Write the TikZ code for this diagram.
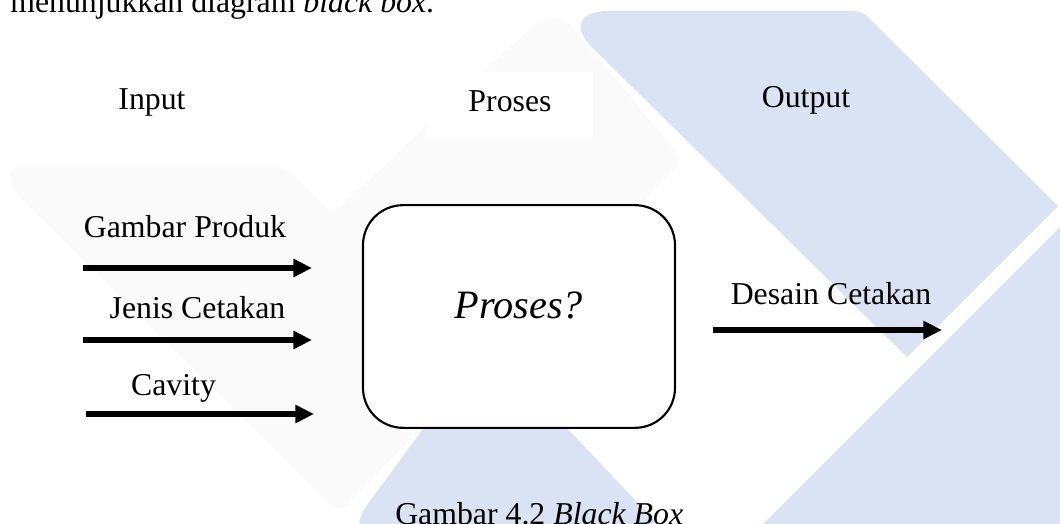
\documentclass[tikz,border=0pt]{standalone}
\usepackage{fontspec}
\setmainfont{Liberation Serif}
\usepackage{xcolor}
\usetikzlibrary{arrows.meta}
\definecolor{logoblue}{RGB}{218,227,243}
\definecolor{logogrey}{RGB}{250,250,250}

\begin{document}
\begin{tikzpicture}[x=0.75pt,y=-0.75pt,every node/.style={inner sep=0pt,font=\fontsize{23.85}{28}\selectfont},
  flow/.style={line width=4.6pt,-{Triangle[length=14pt,width=13pt]}}]

\pgfmathsetmacro{\XIN}{83}
\pgfmathsetmacro{\XINEND}{312}
\pgfmathsetmacro{\XOUT}{713}
\pgfmathsetmacro{\XOUTEND}{942}

\useasboundingbox (0,0) rectangle (1060,524);

% logo in the background
\fill[logogrey, rounded corners=8pt] (10,166) -- (284,166) -- (333,214) -- (541,18) -- (565,18) -- (683,160) -- (339,513) -- (10,187) -- cycle;
\fill[logoblue] (907,357) -- (1058,206) [rounded corners=6pt] -- (862,11) [rounded corners=40pt] -- (555,11) [sharp corners] -- cycle;
\fill[logoblue] (1060,227) -- (763,524) -- (1060,524) -- cycle;
\fill[logoblue] (658,524) -- (486,343) [rounded corners=8pt] -- (359,516) [sharp corners] -- (359,524) -- cycle;

% line of text above
\draw (10,13) node (lead) [anchor=base west] {menunjukkan diagram \textit{black box}.};

% column heads
\fill[white] (427,72) rectangle (593,138);
\draw (152,110) node (input) [anchor=base] {Input};
\draw (510,112) node (proses) [anchor=base] {Proses};
\draw (806,108) node (output) [anchor=base] {Output};

% black box
\draw (519,316.5) node (box) [draw, fill=white, line width=1.6pt, rounded corners=30pt,
  minimum width=234pt, minimum height=167pt] {};
\draw (519,318) node (tanya) [anchor=base, font=\fontsize{30.2}{36}\selectfont\itshape] {Proses?};

% inputs
\coordinate (in1) at (\XIN,268);
\coordinate (in1e) at (\XINEND,268);
\coordinate (in2) at (\XIN,340);
\coordinate (in2e) at (\XINEND,340);
\coordinate (in3) at (\XIN+3,414);
\coordinate (in3e) at (\XINEND+2,414);
\draw (185,238) node (produk) [anchor=base] {Gambar Produk};
\draw (197.5,318) node (jenis) [anchor=base] {Jenis Cetakan};
\draw (173.5,395) node (cavity) [anchor=base] {Cavity};
\draw[flow] (in1) -- (in1e);
\draw[flow] (in2) -- (in2e);
\draw[flow] (in3) -- (in3e);

% output
\coordinate (out) at (\XOUT,330);
\coordinate (oute) at (\XOUTEND,330);
\draw (831,304) node (desain) [anchor=base] {Desain Cetakan};
\draw[flow] (out) -- (oute);

% caption
\draw (395,524) node (caption) [anchor=base west] {Gambar 4.2 \textit{Black Box}};
\end{tikzpicture}
\end{document}
